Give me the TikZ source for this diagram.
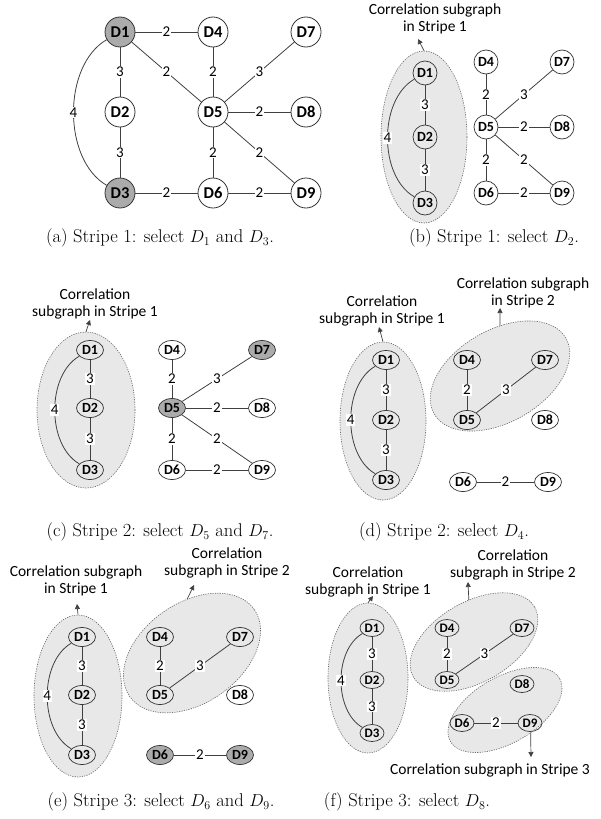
\documentclass[tikz,border=0pt]{standalone}
\usepackage{fontspec}
\newfontfamily\calib{Carlito}
\usetikzlibrary{arrows.meta,shapes.geometric}

\begin{document}
\begin{tikzpicture}[x=1pt, y=-1pt,
dnode/.style={circle, draw=black!80, line width=0.8pt, inner sep=0pt, minimum size=30pt, font=\calib\bfseries\fontsize{16.5}{16.5}\selectfont},
snode/.style={circle, draw=black!80, line width=0.7pt, inner sep=0pt, minimum size=24pt, font=\calib\bfseries\fontsize{14}{14}\selectfont},
enode/.style={ellipse, draw=black!80, line width=0.7pt, inner sep=0pt, minimum width=27pt, minimum height=19pt, font=\calib\bfseries\fontsize{14}{14}\selectfont},
fnode/.style={enode, minimum width=24pt, minimum height=17pt, font=\calib\bfseries\fontsize{13}{13}\selectfont},
sel/.style={fill=black!33},
link/.style={draw=black!75, line width=0.8pt},
wt/.style={fill=white, inner sep=0.8pt, font=\calib\fontsize{15}{15}\selectfont},
subg/.style={ellipse, draw=black!60, dash pattern=on 1.2pt off 1.2pt, line width=0.6pt, fill=black!9, inner sep=0pt},
note/.style={align=center, font=\calib\fontsize{15.5}{17}\selectfont},
ptr/.style={-{Triangle[length=5pt, width=5pt]}, draw=black!75, line width=0.7pt},
subcap/.style={font=\fontsize{18.5}{20}\selectfont}
]
\useasboundingbox (0,0) rectangle (600,819);

% --- (a) Stripe 1: D1 and D3 ---
\node[dnode, sel] (a1) at (120,32) {D1};
\node[dnode] (a2) at (120,112) {D2};
\node[dnode, sel] (a3) at (120,193) {D3};
\node[dnode] (a4) at (213,32) {D4};
\node[dnode] (a5) at (213,112) {D5};
\node[dnode] (a6) at (213,193) {D6};
\node[dnode] (a7) at (306,32) {D7};
\node[dnode] (a8) at (306,112) {D8};
\node[dnode] (a9) at (306,193) {D9};

\draw[link] (a1) -- node[wt] {2} (a4);
\draw[link] (a1) -- node[wt] {3} (a2);
\draw[link] (a2) -- node[wt] {3} (a3);
\draw[link] (a1) -- node[wt] {2} (a5);
\draw[link] (a1) to[out=210, in=150, looseness=0.9] node[wt] {4} (a3);
\draw[link] (a4) -- node[wt] {2} (a5);
\draw[link] (a5) -- node[wt] {3} (a7);
\draw[link] (a5) -- node[wt] {2} (a8);
\draw[link] (a5) -- node[wt] {2} (a6);
\draw[link] (a5) -- node[wt] {2} (a9);
\draw[link] (a3) -- node[wt] {2} (a6);
\draw[link] (a6) -- node[wt] {2} (a9);

\node[subcap] (capa) at (160,238) {(a) Stripe 1: select $D_1$ and $D_3$.};

% --- (b) Stripe 1: D2 ---
\node[subg, minimum width=86pt, minimum height=172pt] (eb) at (424,137) {};
\node[note] (lb) at (435,19) {Correlation subgraph\\in Stripe 1};
\coordinate (tb) at (418,39);
\draw[ptr] (eb.north) -- (tb);

\node[snode] (b1) at (425,73) {D1};
\node[snode] (b2) at (425,137) {D2};
\node[snode] (b3) at (425,203) {D3};
\node[snode] (b4) at (486,62) {D4};
\node[snode] (b5) at (486,127) {D5};
\node[snode] (b6) at (486,193) {D6};
\node[snode] (b7) at (562,62) {D7};
\node[snode] (b8) at (562,127) {D8};
\node[snode] (b9) at (562,193) {D9};

\draw[link] (b1) -- node[wt] {3} (b2);
\draw[link] (b2) -- node[wt] {3} (b3);
\draw[link] (b1) to[out=210, in=150, looseness=0.9] node[wt] {4} (b3);
\draw[link] (b4) -- node[wt] {2} (b5);
\draw[link] (b5) -- node[wt] {3} (b7);
\draw[link] (b5) -- node[wt] {2} (b8);
\draw[link] (b5) -- node[wt] {2} (b6);
\draw[link] (b5) -- node[wt] {2} (b9);
\draw[link] (b6) -- node[wt] {2} (b9);

\node[subcap] (capb) at (494,238) {(b) Stripe 1: select $D_2$.};

% --- (c) Stripe 2: D5 and D7 ---
\node[subg, minimum width=98pt, minimum height=156pt] (ec) at (86,410) {};
\node[note] (lc) at (95,304) {Correlation\\subgraph in Stripe 1};
\coordinate (tc) at (90,320);
\draw[ptr] (ec.north) -- (tc);

\node[enode] (c1) at (90,350) {D1};
\node[enode] (c2) at (90,408) {D2};
\node[enode] (c3) at (90,470) {D3};
\node[enode] (c4) at (172,350) {D4};
\node[enode, sel] (c5) at (172,408) {D5};
\node[enode] (c6) at (172,470) {D6};
\node[enode, sel] (c7) at (262,350) {D7};
\node[enode] (c8) at (262,408) {D8};
\node[enode] (c9) at (262,470) {D9};

\draw[link] (c1) -- node[wt] {3} (c2);
\draw[link] (c2) -- node[wt] {3} (c3);
\draw[link] (c1) to[out=210, in=150, looseness=0.9] node[wt] {4} (c3);
\draw[link] (c4) -- node[wt] {2} (c5);
\draw[link] (c5) -- node[wt] {3} (c7);
\draw[link] (c5) -- node[wt] {2} (c8);
\draw[link] (c5) -- node[wt] {2} (c6);
\draw[link] (c5) -- node[wt] {2} (c9);
\draw[link] (c6) -- node[wt] {2} (c9);

\node[subcap] (capc) at (160,532) {(c) Stripe 2: select $D_5$ and $D_7$.};

% --- (d) Stripe 2: D4 ---
\node[subg, minimum width=86pt, minimum height=158pt] (ed1) at (383,421) {};
\node[subg, minimum width=152pt, minimum height=92pt, rotate=30] (ed2) at (500,376) {};
\node[note] (ld1) at (382,311) {Correlation\\subgraph in Stripe 1};
\node[note] (ld2) at (523,293) {Correlation subgraph\\in Stripe 2};
\coordinate (td1) at (379,327);
\coordinate (td2) at (500,308);
\draw[ptr] (ed1.north) -- (td1);
\draw[ptr] (ed2.60) -- (td2);

\node[enode] (d1) at (386,360) {D1};
\node[enode] (d2) at (386,420) {D2};
\node[enode] (d3) at (386,480) {D3};
\node[enode] (d4) at (467,360) {D4};
\node[enode] (d5) at (467,420) {D5};
\node[enode] (d6) at (463,482) {D6};
\node[enode] (d7) at (545,360) {D7};
\node[enode] (d8) at (545,420) {D8};
\node[enode] (d9) at (548,482) {D9};

\draw[link] (d1) -- node[wt] {3} (d2);
\draw[link] (d2) -- node[wt] {3} (d3);
\draw[link] (d1) to[out=210, in=150, looseness=0.9] node[wt] {4} (d3);
\draw[link] (d4) -- node[wt] {2} (d5);
\draw[link] (d5) -- node[wt] {3} (d7);
\draw[link] (d6) -- node[wt] {2} (d9);

\node[subcap] (capd) at (444,532) {(d) Stripe 2: select $D_4$.};

% --- (e) Stripe 3: D6 and D9 ---
\node[subg, minimum width=88pt, minimum height=162pt] (ee1) at (78,696) {};
\node[subg, minimum width=152pt, minimum height=100pt, rotate=35] (ee2) at (192,653) {};
\node[note] (le1) at (76,581) {Correlation subgraph\\in Stripe 1};
\node[note] (le2) at (227,563) {Correlation\\subgraph in Stripe 2};
\coordinate (te1) at (77,604);
\coordinate (te2) at (194,585);
\draw[ptr] (ee1.north) -- (te1);
\draw[ptr] (ee2.60) -- (te2);

\node[enode] (e1) at (82,637) {D1};
\node[enode] (e2) at (82,695) {D2};
\node[enode] (e3) at (82,755) {D3};
\node[enode] (e4) at (160,637) {D4};
\node[enode] (e5) at (160,695) {D5};
\node[enode, sel] (e6) at (160,755) {D6};
\node[enode] (e7) at (240,637) {D7};
\node[enode] (e8) at (240,695) {D8};
\node[enode, sel] (e9) at (240,755) {D9};

\draw[link] (e1) -- node[wt] {3} (e2);
\draw[link] (e2) -- node[wt] {3} (e3);
\draw[link] (e1) to[out=210, in=150, looseness=0.9] node[wt] {4} (e3);
\draw[link] (e4) -- node[wt] {2} (e5);
\draw[link] (e5) -- node[wt] {3} (e7);
\draw[link] (e6) -- node[wt] {2} (e9);

\node[subcap] (cape) at (161,802) {(e) Stripe 3: select $D_6$ and $D_9$.};

% --- (f) Stripe 3: D8 ---
\node[subg, minimum width=80pt, minimum height=150pt] (ef1) at (368,678) {};
\node[subg, minimum width=140pt, minimum height=80pt, rotate=30] (ef2) at (474,642) {};
\node[subg, minimum width=126pt, minimum height=66pt, rotate=30] (ef3) at (505,710) {};
\node[note] (lf1) at (368,582) {Correlation\\subgraph in Stripe 1};
\node[note] (lf2) at (513,565) {Correlation\\subgraph in Stripe 2};
\node[note] (lf3) at (490,770) {Correlation subgraph in Stripe 3};
\coordinate (tf1) at (373,596);
\coordinate (tf2) at (468,582);
\coordinate (tf3) at (531,757);
\draw[ptr] (ef1.north) -- (tf1);
\draw[ptr] (ef2.67) -- (tf2);
\draw[ptr] (ef3.288) -- (tf3);

\node[fnode] (f1) at (372,628) {D1};
\node[fnode] (f2) at (372,680) {D2};
\node[fnode] (f3) at (372,733) {D3};
\node[fnode] (f4) at (447,628) {D4};
\node[fnode] (f5) at (447,680) {D5};
\node[fnode] (f6) at (462,723) {D6};
\node[fnode] (f7) at (522,628) {D7};
\node[fnode] (f8) at (522,684) {D8};
\node[fnode] (f9) at (530,723) {D9};

\draw[link] (f1) -- node[wt] {3} (f2);
\draw[link] (f2) -- node[wt] {3} (f3);
\draw[link] (f1) to[out=210, in=150, looseness=0.9] node[wt] {4} (f3);
\draw[link] (f4) -- node[wt] {2} (f5);
\draw[link] (f5) -- node[wt] {3} (f7);
\draw[link] (f6) -- node[wt] {2} (f9);

\node[subcap] (capf) at (407,802) {(f) Stripe 3: select $D_8$.};

\end{tikzpicture}
\end{document}
